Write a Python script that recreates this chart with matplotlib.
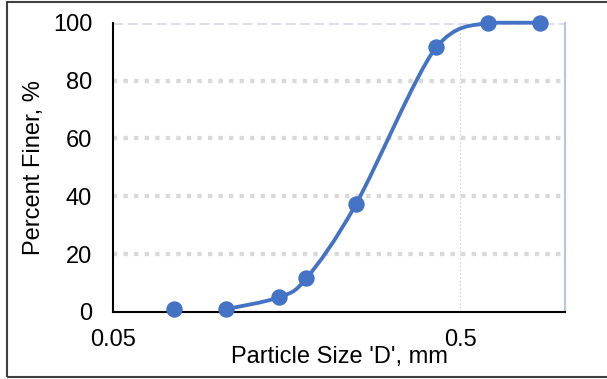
import numpy as np
import matplotlib
matplotlib.use('Agg')
import matplotlib.pyplot as plt
from matplotlib.path import Path
from matplotlib.patches import PathPatch, Rectangle

# sieve data
size_mm = [0.075, 0.106, 0.15, 0.18, 0.25, 0.425, 0.6, 0.85]
pct_finer = [0.9, 1.0, 5.1, 11.6, 37.2, 91.5, 100, 100]
curve_start = 1   # the first point has no line through it

x_ticks = [0.05, 0.5]
x_tick_labels = ['0.05', '0.5']
y_ticks = [0, 20, 40, 60, 80, 100]

BLUE = '#4472C4'
GRID = '#d9d9d9'

plt.rcParams['font.family'] = ['Liberation Sans', 'DejaVu Sans']

fig = plt.figure(figsize=(6.07, 3.79), dpi=100)
W, H = 607.0, 379.0
ax = fig.add_axes([113/W, (H-312)/H, (565-113)/W, (312-22.7)/H])

ax.set_xscale('log')
ax.set_xlim(0.05, 1.0)
ax.set_ylim(0, 100)

# gridlines
for yv in y_ticks[1:-1]:
    ax.axhline(yv, color=GRID, lw=3.1, dashes=(1, 1.45), dash_capstyle='butt', zorder=1)
ax.axhline(100, color='#dedee8', lw=2.2, dashes=(3.2, 1.5), zorder=1)
ax.axvline(0.5, color=GRID, lw=0.9, dashes=(1.5, 1.5), zorder=1)

# smoothed line (bezier through the points, like excel), built in log-x space
u = np.log10(size_mm[curve_start:])
v = np.array(pct_finer[curve_start:], dtype=float)
pu = np.concatenate([[u[0]], u, [u[-1]]])
pv = np.concatenate([[v[0]], v, [v[-1]]])
verts = [(10**u[0], v[0])]
codes = [Path.MOVETO]
for i in range(1, len(pu)-2):
    lo, hi = min(pv[i], pv[i+1]), max(pv[i], pv[i+1])
    c1 = (pu[i] + (pu[i+1]-pu[i-1])/6, np.clip(pv[i] + (pv[i+1]-pv[i-1])/6, lo, hi))
    c2 = (pu[i+1] - (pu[i+2]-pu[i])/6, np.clip(pv[i+1] - (pv[i+2]-pv[i])/6, lo, hi))
    verts += [(10**c1[0], c1[1]), (10**c2[0], c2[1]), (10**pu[i+1], pv[i+1])]
    codes += [Path.CURVE4]*3
ax.add_patch(PathPatch(Path(verts, codes), fill=False, ec=BLUE, lw=2.75,
                       capstyle='round', joinstyle='round', zorder=3, clip_on=False))

ax.plot(size_mm, pct_finer, 'o', color=BLUE, ms=10.8, zorder=4, clip_on=False)

ax.set_xticks(x_ticks)
ax.set_xticklabels(x_tick_labels)
ax.xaxis.set_minor_locator(plt.NullLocator())
ax.set_yticks(y_ticks)
ax.tick_params(axis='both', length=0, labelsize=17)
ax.tick_params(axis='x', pad=12)
ax.tick_params(axis='y', pad=15)

ax.spines['top'].set_visible(False)
ax.spines['right'].set_color('#b4c7e7')
ax.spines['right'].set_linewidth(1.5)
for s in ['left', 'bottom']:
    ax.spines[s].set_color('black')
    ax.spines[s].set_linewidth(1.5)

ax.set_xlabel("Particle Size 'D', mm", fontsize=17)
ax.xaxis.set_label_coords(0.5, (312-357.5)/289.3)
ax.xaxis.label.set_va('center')
ax.set_ylabel('Percent Finer, %', fontsize=17)
ax.yaxis.set_label_coords((34-113)/452, 0.5)
ax.yaxis.label.set_va('center')

# chart border
fig.patches.append(Rectangle((7/W, 2/H), 1.2, 1-4/H, transform=fig.transFigure,
                             fill=False, ec='#404040', lw=1.5))

fig.savefig('out.png', dpi=100)
